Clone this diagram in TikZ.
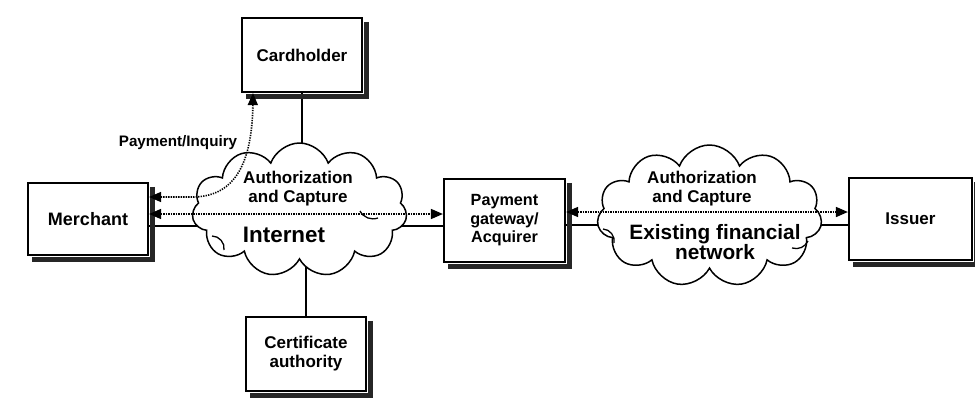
\documentclass[tikz,border=0pt]{standalone}
\usepackage{fontspec}
\setmainfont{Liberation Sans}
\usetikzlibrary{shapes.symbols,arrows.meta,backgrounds}

\begin{document}
\begin{tikzpicture}[x=1pt,y=-1pt,
  box/.style={draw, line width=2.2pt, fill=white, inner sep=0pt, align=center,
    font=\bfseries\fontsize{17}{19}\selectfont},
  boxshadow/.style={line width=4.5pt, line join=miter, draw=black!85},
  netcloud/.style={cloud, cloud puffs=11, cloud puff arc=140, cloud ignores aspect,
    draw, fill=white, line width=1.5pt, inner sep=0pt},
  link/.style={line width=1.7pt},
  tip/.tip={Triangle[length=12pt,width=10pt]},
  msg/.style={line width=1.6pt, dash pattern=on 1.3pt off 1.2pt, tip-tip},
  curl/.style={line width=1.3pt},
  lbl/.style={font=\bfseries\fontsize{17}{19}\selectfont, align=center, inner sep=0pt}
]
\useasboundingbox (0,0) rectangle (975,407);

% parties
\node[box, minimum width=120pt, minimum height=74pt] (ch) at (302,55) {Cardholder};
\node[box, minimum width=120pt, minimum height=72pt,
      font=\bfseries\fontsize{18}{20}\selectfont] (mer) at (88,219) {Merchant};
\node[box, minimum width=120pt, minimum height=74pt] (ca) at (306,354) {Certificate\\authority};
\node[box, minimum width=121pt, minimum height=83pt,
      font=\bfseries\fontsize{16.2}{18.5}\selectfont] (pay) at (504.5,220.5) {Payment\\gateway/\\Acquirer};
\node[box, minimum width=123pt, minimum height=82pt] (iss) at (910.5,219) {Issuer};

% offset shadows along the lower and right sides of each box
\foreach \b in {ch,mer,ca,pay,iss}
  \draw[boxshadow] ([shift={(3.2,5)}]\b.north east) -- ([shift={(3.2,3.2)}]\b.south east)
                   -- ([shift={(5,3.2)}]\b.south west);

% networks
\node[netcloud, minimum width=215pt, minimum height=134pt] (inet) at (299.5,210) {};
\node[netcloud, minimum width=225pt, minimum height=142pt] (fin) at (709.5,216) {};

% physical links, hidden behind the clouds
\begin{scope}[on background layer]
  \draw[link] (ch.south) -- (ch.south |- inet.center);
  \draw[link] (ca.north) -- (ca.north |- inet.center);
  \draw[link] (mer.east |- 0,226) -- (inet.center |- 0,226);
  \draw[link] (inet.center |- 0,226) -- (pay.west |- 0,226);
  \draw[link] (pay.east |- 0,225) -- (fin.center |- 0,225);
  \draw[link] (fin.center |- 0,225) -- (iss.west |- 0,225);
\end{scope}

% small folds inside the clouds
\draw[curl] (212,236) to[bend left=50] (224,250);
\draw[curl] (360,211) to[bend right=40] (378,218);
\draw[curl] (603,229) to[bend left=50] (614,243);
\draw[curl] (792,248) to[bend right=40] (808,241);

% message flows
\draw[msg] (mer.east |- 0,214) -- (pay.west |- 0,214);
\draw[msg] (pay.east |- 0,212) -- (iss.west |- 0,212);
\draw[msg] (mer.east |- 0,197) -- (192,197) .. controls (232,197) and (252,168) .. (ch.south -| 253,0);

% labels
\node[lbl, font=\bfseries\fontsize{15.2}{17}\selectfont] (pilbl) at (178,143) {Payment/Inquiry};
\node[lbl] (inetac) at (298,188.5) {Authorization\\and Capture};
\node[lbl, font=\bfseries\fontsize{22.4}{26}\selectfont] (inetname) at (284,235) {Internet};
\node[lbl] (finac) at (702,189) {Authorization\\and Capture};
\node[lbl, font=\bfseries\fontsize{20.8}{20}\selectfont] (finname) at (715,242) {Existing financial\\network};
\end{tikzpicture}
\end{document}
